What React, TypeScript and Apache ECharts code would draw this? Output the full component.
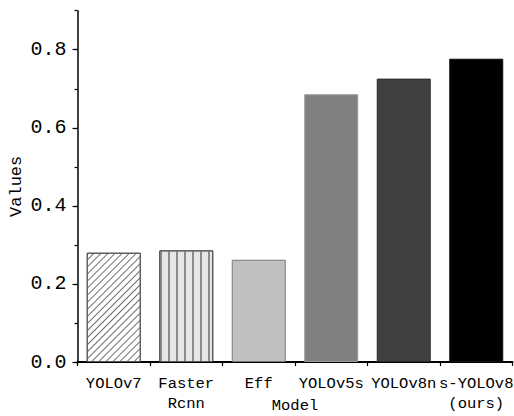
import React, { useEffect, useRef } from "react";
import * as echarts from "echarts";

const categories = ["YOLOv7", "Faster\nRcnn", "Eff", "YOLOv5s", "YOLOv8n", "s-YOLOv8\n(ours)"];
const values = [0.28, 0.286, 0.262, 0.686, 0.726, 0.777];
const barColors = ["#ffffff", "#e6e6e6", "#c0c0c0", "#808080", "#404040", "#000000"];
const borderColors = ["#555555", "#555555", "#7a7a7a", "#9a9a9a", "#2a2a2a", "#111111"];
const majorTicks = [0, 0.2, 0.4, 0.6, 0.8];

const FONT = "Liberation Mono";

export default function App() {
  const ref = useRef<HTMLDivElement>(null);
  useEffect(() => {
    if (!ref.current) return;
    const chart = echarts.init(ref.current, undefined, { renderer: "svg" });
    const decals: any[] = [
      {
        symbol: "rect",
        symbolSize: 1,
        color: "#6e6e6e",
        dashArrayX: [1, 0],
        dashArrayY: [0.9, 3.1],
        rotation: -Math.PI / 4,
      },
      {
        symbol: "rect",
        symbolSize: 1,
        color: "#8c8c8c",
        dashArrayX: [1.8, 5.6],
        dashArrayY: [1, 0],
        rotation: 0,
      },
      null,
      null,
      null,
      null,
    ];
    const grid = { left: 77.5, right: 1.5, top: 10.7, bottom: 54, containLabel: false, outerBoundsMode: "none" };
    chart.setOption({
      animation: false,
      grid: [grid, grid],
      xAxis: [
        {
          type: "category",
          gridIndex: 0,
          data: categories,
          name: "Model",
          nameLocation: "middle",
          nameGap: 36,
          nameMoveOverlap: false,
          nameTextStyle: { fontFamily: FONT, fontSize: 15.5, color: "#000", verticalAlign: "top" },
          axisLine: { lineStyle: { color: "#000", width: 2 } },
          axisTick: { alignWithLabel: true, interval: 0, length: 6, lineStyle: { color: "#000", width: 1.2 } },
          axisLabel: {
            interval: 0,
            margin: 12,
            fontFamily: FONT,
            fontSize: 15.5,
            color: "#000",
            lineHeight: 20,
          },
        },
        {
          type: "category",
          gridIndex: 1,
          data: categories,
          axisLine: { show: false },
          axisTick: {
            show: true,
            interval: 0,
            alignWithLabel: false,
            length: 4,
            lineStyle: { color: "#000", width: 1.2 },
          },
          axisLabel: { show: false, interval: 0 },
        },
      ],
      yAxis: [
        {
          type: "value",
          gridIndex: 0,
          min: 0,
          max: 0.9,
          interval: 0.1,
          name: "Values",
          nameLocation: "middle",
          nameGap: 53,
          nameMoveOverlap: false,
          nameTextStyle: { fontFamily: FONT, fontSize: 17, color: "#000" },
          splitLine: { show: false },
          axisLine: { show: true, lineStyle: { color: "#000", width: 1.5 } },
          axisTick: { show: true, length: 5, customValues: majorTicks, lineStyle: { color: "#000", width: 1.2 } },
          axisLabel: {
            customValues: majorTicks,
            margin: 11,
            fontFamily: FONT,
            fontSize: 20,
            color: "#000",
            formatter: (v: number) => v.toFixed(1),
          },
        },
        {
          type: "value",
          gridIndex: 1,
          min: 0,
          max: 0.9,
          interval: 0.1,
          splitLine: { show: false },
          axisLine: { show: false },
          axisTick: { show: true, length: 3, lineStyle: { color: "#000", width: 1.2 } },
          axisLabel: { show: false },
        },
      ],
      series: [
        {
          type: "bar",
          xAxisIndex: 0,
          yAxisIndex: 0,
          barWidth: "74.5%",
          data: values.map((v, i) => ({
            value: v,
            itemStyle: {
              color: barColors[i],
              borderColor: borderColors[i],
              borderWidth: 1,
              decal: decals[i] || undefined,
            },
          })),
        },
      ],
    });
    return () => chart.dispose();
  }, []);
  return (
    <div
      ref={ref}
      style={{ position: "fixed", left: 0, top: 0, width: 514, height: 416, background: "#fff" }}
    />
  );
}
